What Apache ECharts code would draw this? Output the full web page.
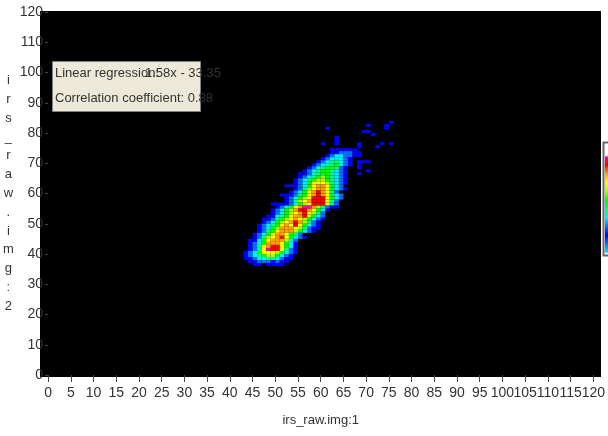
<!DOCTYPE html>
<html>
<head>
<meta charset="utf-8">
<style>html,body{margin:0;padding:0;background:#fff;overflow:hidden}#c{width:608px;height:436px}</style>
<script src="https://cdn.jsdelivr.net/npm/echarts@6/dist/echarts.min.js"></script>
</head>
<body>
<div id="c"></div>
<script>
// Density levels: each row is [y, first x, levels from that x onward]
const mainRows = [
  [74,62,[1,1,1,1,1,1]],
  [73,62,[1,1,2,2,2,1,1]],
  [72,61,[1,2,3,3,2,2,1]],
  [71,60,[1,2,3,3,3,2,1]],
  [70,59,[1,2,3,4,4,3,2,1]],
  [69,58,[1,2,3,3,4,5,3,2,1]],
  [68,57,[1,2,3,4,5,5,4,2,1]],
  [67,56,[1,2,3,4,5,5,4,3,2,1]],
  [66,55,[1,1,2,3,4,5,5,4,3,2,1]],
  [65,55,[1,2,3,4,5,6,5,4,3,2,1]],
  [64,54,[1,2,3,4,5,6,6,5,4,3,2,1]],
  [63,54,[1,2,3,5,7,7,7,6,4,3,2,1]],
  [62,52,[1,1,1,2,3,5,7,8,8,7,5,3,2]],
  [61,54,[1,2,4,6,7,8,8,7,5,3,2,1]],
  [60,53,[1,2,3,5,7,8,9,8,7,4,2]],
  [59,51,[1,1,1,2,4,5,7,8,9,8,7,5,3,2]],
  [58,52,[1,2,3,5,6,7,9,9,9,7,5,3,2]],
  [57,52,[1,2,4,6,7,8,9,9,9,7,4,2]],
  [56,49,[1,1,1,1,2,3,5,6,7,9,9,9,7,4,2]],
  [55,50,[1,2,3,5,7,8,10,10,8,6,4,2,1,1]],
  [54,49,[1,2,3,5,6,8,9,9,8,7,5,3,1]],
  [53,49,[1,2,3,5,6,7,8,9,7,6,4,2]],
  [52,48,[1,1,3,4,5,7,8,8,9,6,5,3,2]],
  [51,47,[1,1,2,4,5,6,7,8,7,6,5,3,2,1]],
  [50,47,[1,2,3,5,6,7,8,9,8,6,4,2,1]],
  [49,46,[1,2,3,4,5,7,8,7,9,7,5,3,2,1]],
  [48,46,[1,2,3,5,6,8,8,8,7,6,4,2,1,1]],
  [47,46,[1,2,4,5,7,8,8,8,6,5,3,2,1]],
  [46,45,[1,2,3,5,7,8,8,7,5,4,2]],
  [45,45,[1,2,4,6,7,8,9,7,5,3,2,1]],
  [44,44,[1,1,3,5,7,8,8,8,6,3,2]],
  [43,44,[1,2,3,5,8,8,8,7,5,3,1]],
  [42,44,[1,2,4,7,8,9,9,7,5,3,1]],
  [41,44,[1,2,4,7,10,9,9,7,4,2,1]],
  [40,43,[1,2,3,5,7,7,7,6,5,3,2,1]],
  [39,43,[1,2,3,4,5,6,6,5,3,2,1]],
  [38,43,[1,1,2,3,3,4,4,3,2,1,1]],
  [37,44,[1,1,2,2,2,1,2,1,1]],
  [36,45,[1,1,0,1,1,1,1]]
];
// Isolated low-density cells [x, y, level]
const strayCells = [
  [61,81,1],[63,78,1],[63,77,1],[63,76,1],[60,76,1],[68,76,1],[68,75,1],
  [70,82,1],[69,80,1],[70,80,1],[71,79,1],[74,82,1],[74,81,1],[75,83,1],
  [72,75,1],[73,76,1],[75,76,1],
  [68,72,1],[68,70,1],[69,70,1],[70,70,1],[68,69,1],[68,68,1],[70,67,1],[68,66,1]
];
const xTicks = {min:0,max:120,step:5};
const yTicks = {min:0,max:120,step:10};
const xTitle = 'irs_raw.img:1';
const yTitle = 'irs_raw.img:2'.split('').join('\n');
const noteLines = ['Linear regression:','1.58x - 33.35','Correlation coefficient: 0.88'];
const levelColors = ['#00e6ff','#0080ff','#0000ff','#0070ff','#00f0ff','#00ff80','#00ff00','#aaff00','#ffff00','#ffa000','#ff0000','#ff00b4'];

const cells = [];
mainRows.forEach(([y,x0,vals]) => vals.forEach((v,i) => { if (v>0) cells.push([x0+i,y,v]); }));
strayCells.forEach(c => cells.push(c));

const font = '"Liberation Sans Narrow","Liberation Sans",Arial,sans-serif';
const chart = echarts.init(document.getElementById('c'), null, {renderer:'canvas'});
chart.setOption({
  animation:false,
  backgroundColor:'#fff',
  grid:{left:41,right:7,top:12,bottom:61},
  xAxis:{type:'value',min:xTicks.min,max:xTicks.max,interval:xTicks.step,offset:2,
    splitLine:{show:false},axisLine:{show:false},
    axisTick:{show:true,length:7,lineStyle:{color:'#444'}},
    axisLabel:{color:'#333',fontFamily:font,fontSize:14,margin:9,hideOverlap:false,showMinLabel:true,showMaxLabel:true},
    name:xTitle,nameLocation:'middle',nameGap:37,nameTextStyle:{color:'#333',fontFamily:font,fontSize:13}},
  yAxis:{type:'value',min:yTicks.min,max:yTicks.max,interval:yTicks.step,offset:1,
    splitLine:{show:false},axisLine:{show:false},
    axisTick:{show:true,length:3,lineStyle:{color:'#444'}},
    axisLabel:{color:'#333',fontFamily:font,fontSize:14,margin:4,showMinLabel:true,showMaxLabel:true},
    name:yTitle,nameLocation:'middle',nameRotate:0,nameGap:31,
    nameTextStyle:{color:'#333',fontFamily:font,fontSize:13,lineHeight:18.8,align:'center',verticalAlign:'middle'}},
  visualMap:{type:'continuous',min:-1,max:10,dimension:2,seriesIndex:0,calculable:false,
    left:605,top:156,itemWidth:3,itemHeight:97,padding:0,text:null,showLabel:false,
    inRange:{color:levelColors},textStyle:{color:'transparent',fontSize:1}},
  graphic:[
    {type:'rect',z:-1,silent:true,shape:{x:40,y:11,width:561,height:366},style:{fill:'#000'}},
    {type:'rect',z:-1,silent:true,shape:{x:603.5,y:142.5,width:20,height:113},style:{fill:'#fff',stroke:'#666',lineWidth:2}},
    {type:'rect',z:50,silent:true,shape:{x:52.5,y:61.5,width:148,height:50},style:{fill:'#ece9d8',stroke:'#808080',lineWidth:1}},
    {type:'text',z:51,silent:true,x:55,y:67,style:{text:noteLines[0],fill:'#333',font:'13px '+font}},
    {type:'text',z:51,silent:true,x:145,y:67,style:{text:noteLines[1],fill:'#333',font:'13px '+font}},
    {type:'text',z:51,silent:true,x:55,y:92,style:{text:noteLines[2],fill:'#333',font:'13px '+font}}
  ],
  series:[{
    type:'custom',
    coordinateSystem:'cartesian2d',
    data:cells,
    encode:{x:0,y:1},
    renderItem:function(params,api){
      const x=api.value(0), y=api.value(1);
      const a=api.coord([x,y+1]), b=api.coord([x+1,y]);
      return {type:'rect',shape:{x:a[0],y:a[1],width:b[0]-a[0],height:b[1]-a[1]},
        style:{fill:api.visual('color')}};
    }
  }]
});
</script>
</body>
</html>
